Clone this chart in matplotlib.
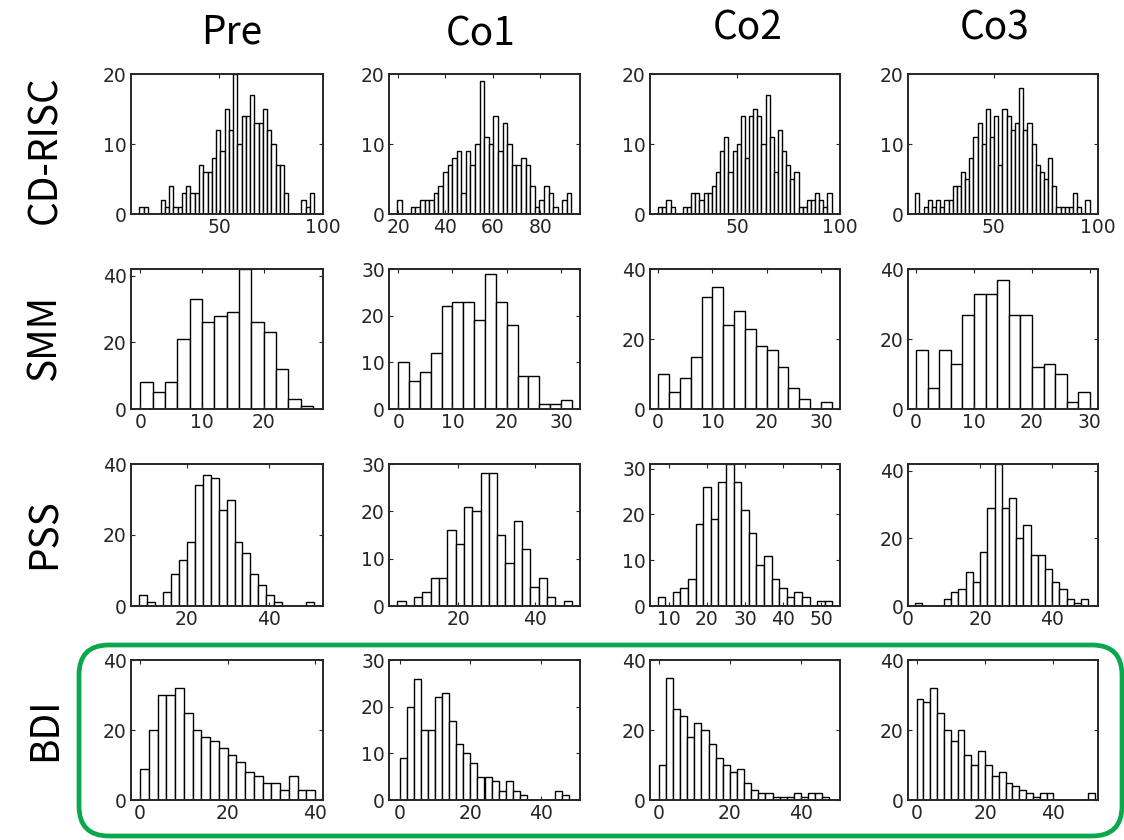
import numpy as np
import matplotlib
matplotlib.use("Agg")
import matplotlib.pyplot as plt
from matplotlib.patches import FancyBboxPatch

# histogram counts, one list per panel, with (first edge, last edge)
cols = ["Pre", "Co1", "Co2", "Co3"]
rows = ["CD-RISC", "SMM", "PSS", "BDI"]

cdrisc_pre = [1, 1, 0, 0, 0, 2, 1, 4, 1, 1, 3, 4, 3, 3, 7, 6, 6, 8, 12, 9, 15, 12, 20, 10, 14,
              14, 17, 13, 13, 15, 12, 10, 7, 7, 3, 0, 0, 0, 2, 1, 3]
cdrisc_co1 = [2, 0, 0, 1, 1, 2, 2, 2, 3, 4, 6, 7, 8, 9, 3, 9, 7, 10, 19, 11, 10, 14, 9, 13, 10,
              7, 7, 8, 7, 4, 1, 2, 4, 3, 1, 0, 2, 3]
cdrisc_co2 = [1, 1, 2, 1, 0, 0, 1, 1, 3, 3, 2, 3, 3, 4, 6, 9, 11, 6, 9, 10, 14, 8, 14, 15, 14,
              10, 17, 11, 6, 12, 9, 7, 5, 6, 1, 1, 2, 2, 3, 2, 1, 3]
cdrisc_co3 = [3, 0, 1, 2, 1, 2, 1, 2, 2, 4, 4, 6, 5, 8, 11, 13, 10, 15, 11, 14, 7, 15, 14, 12, 13,
              18, 12, 13, 10, 7, 6, 5, 8, 4, 1, 1, 1, 1, 3, 1, 0, 2]

smm_pre = [8, 5, 8, 21, 33, 26, 28, 29, 42, 26, 23, 12, 3, 1]
smm_co1 = [10, 6, 8, 12, 22, 23, 23, 19, 29, 23, 18, 7, 7, 1, 1, 2]
smm_co2 = [10, 5, 9, 15, 32, 35, 24, 28, 23, 18, 17, 12, 6, 3, 0, 2]
smm_co3 = [17, 6, 17, 13, 27, 33, 33, 37, 27, 27, 12, 13, 10, 2, 5]

pss_pre = [3, 1, 0, 4, 9, 13, 18, 34, 37, 36, 27, 30, 18, 15, 9, 6, 3, 1, 0, 0, 0, 1]
pss_co1 = [1, 0, 2, 3, 6, 6, 16, 13, 21, 20, 28, 28, 15, 9, 18, 12, 4, 6, 2, 0, 1]
pss_co2 = [2, 0, 3, 4, 6, 18, 26, 19, 27, 31, 27, 21, 16, 9, 11, 6, 4, 2, 3, 2, 0, 1, 1]
pss_co3 = [1, 0, 0, 0, 2, 4, 5, 10, 7, 16, 29, 42, 29, 32, 20, 24, 15, 15, 11, 7, 5, 2, 1, 2]

bdi_pre = [9, 20, 30, 30, 32, 25, 20, 18, 17, 15, 13, 11, 8, 7, 5, 5, 3, 7, 3, 3]
bdi_co1 = [9, 20, 26, 15, 15, 22, 23, 17, 12, 10, 8, 5, 5, 4, 2, 4, 2, 1, 0, 0, 0, 0, 2, 1]
bdi_co2 = [10, 35, 26, 24, 18, 22, 20, 16, 12, 10, 8, 9, 5, 3, 2, 2, 1, 1, 1, 2, 1, 2, 2, 1]
bdi_co3 = [29, 28, 32, 25, 20, 17, 20, 13, 10, 14, 10, 7, 8, 5, 4, 3, 2, 1, 2, 2, 0, 0, 0, 0, 0, 2]

counts = [[cdrisc_pre, cdrisc_co1, cdrisc_co2, cdrisc_co3],
          [smm_pre, smm_co1, smm_co2, smm_co3],
          [pss_pre, pss_co1, pss_co2, pss_co3],
          [bdi_pre, bdi_co1, bdi_co2, bdi_co3]]

bin_range = [[(11.7, 95.7), (19.6, 93.2), (11.5, 95.9), (12.5, 96.0)],
             [(0, 28), (0, 32), (0, 32), (0, 30)],
             [(8.4, 51.1), (4.2, 49.6), (7, 53), (2, 50)],
             [(0, 40), (0, 48), (0, 48), (0, 52)]]

# axis settings per panel
xlims = [[(7.7, 100), (16.2, 96.8), (7.5, 100), (9, 100)],
         [(-1.5, 29.6), (-1.7, 33.5), (-1.5, 33.5), (-1.4, 31.4)],
         [(6.4, 53.3), (2, 51.7), (5, 55), (0, 52.7)],
         [(-2.1, 41.8), (-3, 51), (-2.5, 51), (-2.5, 53)]]
xticks = [[[50, 100], [20, 40, 60, 80], [50, 100], [50, 100]],
          [[0, 10, 20], [0, 10, 20, 30], [0, 10, 20, 30], [0, 10, 20, 30]],
          [[20, 40], [20, 40], [10, 20, 30, 40, 50], [0, 20, 40]],
          [[0, 20, 40]] * 4]
ylims = [[20, 20, 20, 20], [42, 30, 40, 40], [40, 30, 31, 42], [40, 30, 40, 40]]
yticks = [[[0, 10, 20]] * 4,
          [[0, 20, 40], [0, 10, 20, 30], [0, 20, 40], [0, 20, 40]],
          [[0, 20, 40], [0, 10, 20, 30], [0, 10, 20, 30], [0, 20, 40]],
          [[0, 20, 40], [0, 10, 20, 30], [0, 20, 40], [0, 20, 40]]]

W, H = 1124, 840
fig = plt.figure(figsize=(W / 100, H / 100), dpi=100)

lefts = [131, 389, 650, 908]
widths = [192, 191, 190, 190]
tops = [74, 269, 464, 660]
bottoms = [214, 409, 606, 800]

tick_font = "DejaVu Sans"
label_font = ["Noto Sans CJK JP", "DejaVu Sans"]

for i in range(4):
    for j in range(4):
        ax = fig.add_axes([lefts[j] / W, 1 - bottoms[i] / H, widths[j] / W, (bottoms[i] - tops[i]) / H])
        c = counts[i][j]
        lo, hi = bin_range[i][j]
        edges = np.linspace(lo, hi, len(c) + 1)
        ax.bar(edges[:-1], c, width=np.diff(edges), align="edge",
               color="white", edgecolor="black", linewidth=1.0)
        ax.set_xlim(*xlims[i][j])
        ax.set_ylim(0, ylims[i][j])
        ax.set_xticks(xticks[i][j])
        ax.set_yticks(yticks[i][j])
        ax.tick_params(direction="in", top=True, right=True, length=3, width=0.8,
                       labelsize=13.5, colors="#262626", pad=3)
        for lab in ax.get_xticklabels() + ax.get_yticklabels():
            lab.set_family(tick_font)
        for s in ax.spines.values():
            s.set_linewidth(1.4)
            s.set_color("#262626")

# column titles and row labels
title_pos = [(232, 33), (481, 35), (748, 28), (995, 28)]
for name, (x, y) in zip(cols, title_pos):
    fig.text(x / W, 1 - y / H, name, ha="center", va="center", fontsize=28, family=label_font)

row_y = [150, 338, 534, 729]
for name, y in zip(rows, row_y):
    fig.text(45 / W, 1 - y / H, name, ha="center", va="center", rotation=90,
             fontsize=28, family=label_font)

# green rounded frame around the BDI row
box = FancyBboxPatch((0.79, 0.04), 10.43, 1.91, boxstyle="round,pad=0,rounding_size=0.3",
                     transform=fig.dpi_scale_trans, facecolor="none",
                     edgecolor="#0aa84a", linewidth=3.4)
fig.patches.append(box)

fig.savefig("out.png", dpi=100)
